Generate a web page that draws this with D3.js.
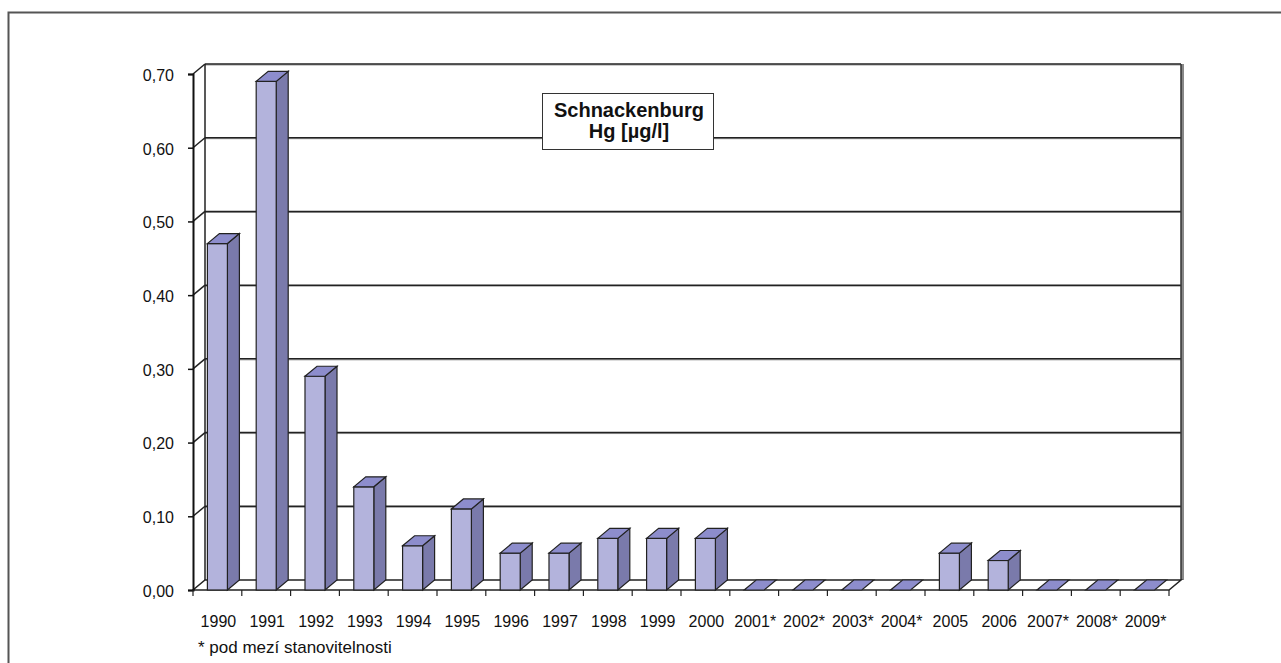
<!DOCTYPE html>
<html>
<head>
<meta charset="utf-8">
<script src="https://cdn.jsdelivr.net/npm/d3@7"></script>
<style>
  body { margin: 0; background: #fff; }
  svg { font-family: 'Liberation Sans', Arial, sans-serif; }
</style>
</head>
<body>
<script>
// data
const years = ['1990', '1991', '1992', '1993', '1994', '1995', '1996', '1997', '1998', '1999',
  '2000', '2001*', '2002*', '2003*', '2004*', '2005', '2006', '2007*', '2008*', '2009*'];
const hg = [0.47, 0.69, 0.29, 0.14, 0.06, 0.11, 0.05, 0.05, 0.07, 0.07,
  0.07, 0, 0, 0, 0, 0.05, 0.04, 0, 0, 0];
const yTicks = [0, 0.1, 0.2, 0.3, 0.4, 0.5, 0.6, 0.7];
const yTickLabels = ['0,00', '0,10', '0,20', '0,30', '0,40', '0,50', '0,60', '0,70'];
const titleLines = ['Schnackenburg', 'Hg [µg/l]'];
const footnote = '* pod mezí stanovitelnosti';

const W = 1281, H = 663;
const plotLeft = 193, plotRight = 1169, plotBottom = 590, plotTop = 74;
const dx = 12, dy = 10; // 3d depth offset

const x = d3.scaleBand().domain(years).range([plotLeft, plotRight]);
const y = d3.scaleLinear().domain([0, 0.7]).range([plotBottom, plotTop]);
const barW = x.bandwidth() * 0.41;

const svg = d3.select('body').append('svg')
  .attr('width', W)
  .attr('height', H);

// outer frame
svg.append('rect')
  .attr('x', 8.5).attr('y', 12.5)
  .attr('width', 1290).attr('height', 700)
  .attr('fill', 'none')
  .attr('stroke', '#555')
  .attr('stroke-width', 2);

// back wall
svg.append('rect')
  .attr('x', plotLeft + dx).attr('y', plotTop - dy)
  .attr('width', plotRight - plotLeft).attr('height', plotBottom - plotTop)
  .attr('fill', '#fff');

// gridlines on back wall + side wall
const grid = svg.append('g').attr('fill', 'none');
yTicks.slice(1).forEach(function (t) {
  grid.append('line')
    .attr('x1', plotLeft + dx).attr('x2', plotRight + dx)
    .attr('y1', y(t) - dy + 1).attr('y2', y(t) - dy + 1)
    .attr('stroke', '#999').attr('stroke-width', 1);
  grid.append('line')
    .attr('x1', plotLeft + dx).attr('x2', plotRight + dx)
    .attr('y1', y(t) - dy).attr('y2', y(t) - dy)
    .attr('stroke', '#222').attr('stroke-width', 1.5);
  grid.append('line')
    .attr('x1', plotLeft).attr('x2', plotLeft + dx)
    .attr('y1', y(t)).attr('y2', y(t) - dy)
    .attr('stroke', '#222').attr('stroke-width', 1.5);
});

// back wall edges (right one with shadow look)
svg.append('line')
  .attr('x1', plotRight + dx + 1.5).attr('x2', plotRight + dx + 1.5)
  .attr('y1', plotTop - dy).attr('y2', plotBottom - dy)
  .attr('stroke', '#888').attr('stroke-width', 3);
svg.append('line')
  .attr('x1', plotRight + dx).attr('x2', plotRight + dx)
  .attr('y1', plotTop - dy).attr('y2', plotBottom - dy)
  .attr('stroke', '#333').attr('stroke-width', 1.5);
svg.append('line')
  .attr('x1', plotLeft + dx).attr('x2', plotLeft + dx)
  .attr('y1', plotTop - dy).attr('y2', plotBottom - dy)
  .attr('stroke', '#222').attr('stroke-width', 1.5);

// floor
svg.append('path')
  .attr('d', 'M' + plotLeft + ',' + plotBottom + 'L' + plotRight + ',' + plotBottom +
    'L' + (plotRight + dx) + ',' + (plotBottom - dy) + 'L' + (plotLeft + dx) + ',' + (plotBottom - dy) + 'Z')
  .attr('fill', '#fff')
  .attr('stroke', '#222')
  .attr('stroke-width', 1.5);

// bars
const front = '#b3b3dc', side = '#7a7aab', topC = '#8d8dcc';
const bars = svg.append('g').attr('stroke', '#222').attr('stroke-width', 1.2);
years.forEach(function (yr, i) {
  const x0 = x(yr) + (x.bandwidth() - barW) / 2;
  const x1 = x0 + barW;
  const yt = y(hg[i]);
  if (hg[i] > 0) {
    bars.append('path')
      .attr('d', 'M' + x1 + ',' + plotBottom + 'L' + (x1 + dx) + ',' + (plotBottom - dy) +
        'L' + (x1 + dx) + ',' + (yt - dy) + 'L' + x1 + ',' + yt + 'Z')
      .attr('fill', side);
    bars.append('rect')
      .attr('x', x0).attr('y', yt)
      .attr('width', barW).attr('height', plotBottom - yt)
      .attr('fill', front);
  }
  bars.append('path')
    .attr('d', 'M' + x0 + ',' + yt + 'L' + x1 + ',' + yt +
      'L' + (x1 + dx) + ',' + (yt - dy) + 'L' + (x0 + dx) + ',' + (yt - dy) + 'Z')
    .attr('fill', topC);
});

// y axis
const yAxis = d3.axisLeft(y)
  .tickValues(yTicks)
  .tickSize(5)
  .tickFormat(function (d, i) { return yTickLabels[i]; });
svg.append('g')
  .attr('transform', 'translate(' + plotLeft + ',0)')
  .call(yAxis)
  .call(function (g) {
    g.select('.domain').attr('stroke', '#111').attr('stroke-width', 2);
    g.selectAll('.tick line').attr('stroke', '#111').attr('stroke-width', 1.5);
    g.selectAll('.tick text').attr('font-size', 16).attr('fill', '#111')
      .attr('x', -19).attr('dy', '0.4em')
      .attr('font-family', 'Liberation Sans, Arial, sans-serif');
  });

// x axis ticks at category boundaries
const xt = svg.append('g').attr('stroke', '#222').attr('stroke-width', 1.2);
years.forEach(function (yr) {
  xt.append('line')
    .attr('x1', x(yr) + x.bandwidth()).attr('x2', x(yr) + x.bandwidth())
    .attr('y1', plotBottom).attr('y2', plotBottom + 6);
});
xt.append('line')
  .attr('x1', plotLeft).attr('x2', plotLeft)
  .attr('y1', plotBottom).attr('y2', plotBottom + 6);

svg.append('g').selectAll('text')
  .data(years)
  .enter()
  .append('text')
  .attr('x', function (d) { return x(d) + x.bandwidth() / 2 + 1; })
  .attr('y', 626.5)
  .attr('text-anchor', 'middle')
  .attr('font-size', 16)
  .attr('fill', '#111')
  .text(function (d) { return d; });

// footnote
svg.append('text')
  .attr('x', 198)
  .attr('y', 653)
  .attr('font-size', 17)
  .attr('fill', '#111')
  .text(footnote);

// title box
svg.append('rect')
  .attr('x', 542.5).attr('y', 93.5)
  .attr('width', 171).attr('height', 56)
  .attr('fill', '#fff')
  .attr('stroke', '#333')
  .attr('stroke-width', 1);
svg.append('g').selectAll('text')
  .data(titleLines)
  .enter()
  .append('text')
  .attr('x', 629)
  .attr('y', function (d, i) { return 117 + i * 21; })
  .attr('text-anchor', 'middle')
  .attr('font-size', 20)
  .attr('font-weight', 'bold')
  .attr('fill', '#111')
  .text(function (d) { return d; });
</script>
</body>
</html>
